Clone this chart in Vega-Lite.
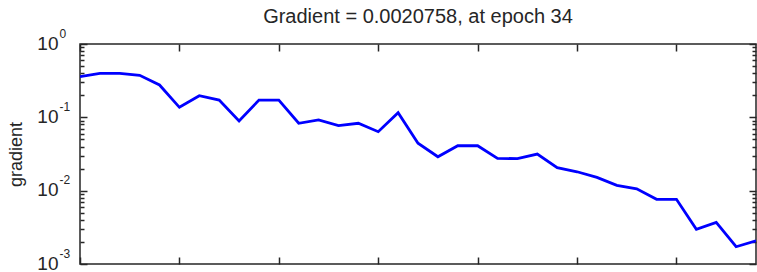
{
  "$schema": "https://vega.github.io/schema/vega-lite/v6.json",
  "width": 676,
  "height": 220,
  "autosize": {"type": "none"},
  "padding": {"left": 80, "top": 44, "right": 1, "bottom": 8},
  "background": "white",
  "config": {
    "view": {"stroke": "#262626", "strokeWidth": 1.5},
    "axis": {
      "grid": false,
      "domain": false,
      "tickColor": "#262626",
      "tickWidth": 1.5,
      "labelColor": "#262626",
      "labelFont": "Liberation Sans",
      "titleFont": "Liberation Sans",
      "titleColor": "#262626",
      "titleFontWeight": "normal",
      "labelOverlap": false,
      "labelFlush": false
    }
  },
  "title": {
    "text": "Gradient = 0.0020758, at epoch 34",
    "font": "Liberation Sans",
    "fontSize": 20,
    "fontWeight": "normal",
    "color": "#262626",
    "frame": "group",
    "anchor": "middle",
    "baseline": "alphabetic",
    "offset": -16
  },
  "data": {
    "values": [
      {"epoch": 0, "gradient": 0.358},
      {"epoch": 1, "gradient": 0.398},
      {"epoch": 2, "gradient": 0.398},
      {"epoch": 3, "gradient": 0.374},
      {"epoch": 4, "gradient": 0.276},
      {"epoch": 5, "gradient": 0.137},
      {"epoch": 6, "gradient": 0.197},
      {"epoch": 7, "gradient": 0.172},
      {"epoch": 8, "gradient": 0.089},
      {"epoch": 9, "gradient": 0.172},
      {"epoch": 10, "gradient": 0.172},
      {"epoch": 11, "gradient": 0.083},
      {"epoch": 12, "gradient": 0.092},
      {"epoch": 13, "gradient": 0.0769},
      {"epoch": 14, "gradient": 0.083},
      {"epoch": 15, "gradient": 0.0637},
      {"epoch": 16, "gradient": 0.1157},
      {"epoch": 17, "gradient": 0.0443},
      {"epoch": 18, "gradient": 0.029},
      {"epoch": 19, "gradient": 0.041},
      {"epoch": 20, "gradient": 0.041},
      {"epoch": 21, "gradient": 0.0276},
      {"epoch": 22, "gradient": 0.0273},
      {"epoch": 23, "gradient": 0.0316},
      {"epoch": 24, "gradient": 0.0206},
      {"epoch": 25, "gradient": 0.0181},
      {"epoch": 26, "gradient": 0.0152},
      {"epoch": 27, "gradient": 0.0118},
      {"epoch": 28, "gradient": 0.0106},
      {"epoch": 29, "gradient": 0.00762},
      {"epoch": 30, "gradient": 0.00762},
      {"epoch": 31, "gradient": 0.00297},
      {"epoch": 32, "gradient": 0.0037},
      {"epoch": 33, "gradient": 0.00172},
      {"epoch": 34, "gradient": 0.0020758}
    ]
  },
  "layer": [
    {
      "mark": {"type": "line", "color": "#0000ff", "strokeWidth": 2.8, "clip": true},
      "encoding": {
        "x": {
          "field": "epoch", "type": "quantitative",
          "scale": {"domain": [0, 34], "nice": false, "zero": false},
          "axis": {"orient": "bottom", "values": [0, 5, 10, 15, 20, 25, 30], "labels": false, "tickSize": -7, "title": null}
        },
        "y": {
          "field": "gradient", "type": "quantitative",
          "scale": {"type": "log", "domain": [0.001, 1], "nice": false},
          "axis": {
            "orient": "left",
            "values": [0.001, 0.01, 0.1, 1],
            "labelExpr": "'10'",
            "tickSize": -7,
            "labelFontSize": 19,
            "labelPadding": 29,
            "labelAlign": "right",
            "labelBaseline": "middle",
            "labelOffset": -1,
            "title": "gradient",
            "titleFontSize": 18,
            "titleAngle": -90,
            "titleAlign": "center",
            "titleBaseline": "alphabetic",
            "titleX": -59,
            "titleY": 110
          }
        }
      }
    },
    {
      "mark": {"type": "line", "opacity": 0},
      "encoding": {
        "x": {
          "field": "epoch", "type": "quantitative",
          "axis": {"orient": "top", "values": [0, 5, 10, 15, 20, 25, 30], "labels": false, "tickSize": -7, "title": null}
        },
        "y": {
          "field": "gradient", "type": "quantitative",
          "axis": {
            "orient": "left",
            "values": [0.001, 0.01, 0.1, 1],
            "ticks": false,
            "labelExpr": "'' + round(log(datum.value)/LN10)",
            "labelFontSize": 12,
            "labelAlign": "left",
            "labelBaseline": "middle",
            "labelPadding": 21,
            "labelOffset": -11,
            "title": null
          }
        }
      }
    },
    {
      "mark": {"type": "line", "opacity": 0},
      "encoding": {
        "x": {"field": "epoch", "type": "quantitative", "axis": null},
        "y": {
          "field": "gradient", "type": "quantitative",
          "axis": {
            "orient": "left",
            "values": [0.002, 0.003, 0.004, 0.005, 0.006, 0.007, 0.008, 0.009, 0.02, 0.03, 0.04, 0.05, 0.06, 0.07, 0.08, 0.09, 0.2, 0.3, 0.4, 0.5, 0.6, 0.7, 0.8, 0.9],
            "labels": false,
            "tickSize": -4,
            "title": null
          }
        }
      }
    },
    {
      "mark": {"type": "line", "opacity": 0},
      "encoding": {
        "x": {"field": "epoch", "type": "quantitative", "axis": null},
        "y": {
          "field": "gradient", "type": "quantitative",
          "axis": {
            "orient": "right",
            "values": [0.001, 0.01, 0.1, 1],
            "labels": false,
            "tickSize": -7,
            "title": null
          }
        }
      }
    },
    {
      "mark": {"type": "line", "opacity": 0},
      "encoding": {
        "x": {"field": "epoch", "type": "quantitative", "axis": null},
        "y": {
          "field": "gradient", "type": "quantitative",
          "axis": {
            "orient": "right",
            "values": [0.002, 0.003, 0.004, 0.005, 0.006, 0.007, 0.008, 0.009, 0.02, 0.03, 0.04, 0.05, 0.06, 0.07, 0.08, 0.09, 0.2, 0.3, 0.4, 0.5, 0.6, 0.7, 0.8, 0.9],
            "labels": false,
            "tickSize": -4,
            "title": null
          }
        }
      }
    }
  ],
  "resolve": {"axis": {"x": "independent", "y": "independent"}}
}
